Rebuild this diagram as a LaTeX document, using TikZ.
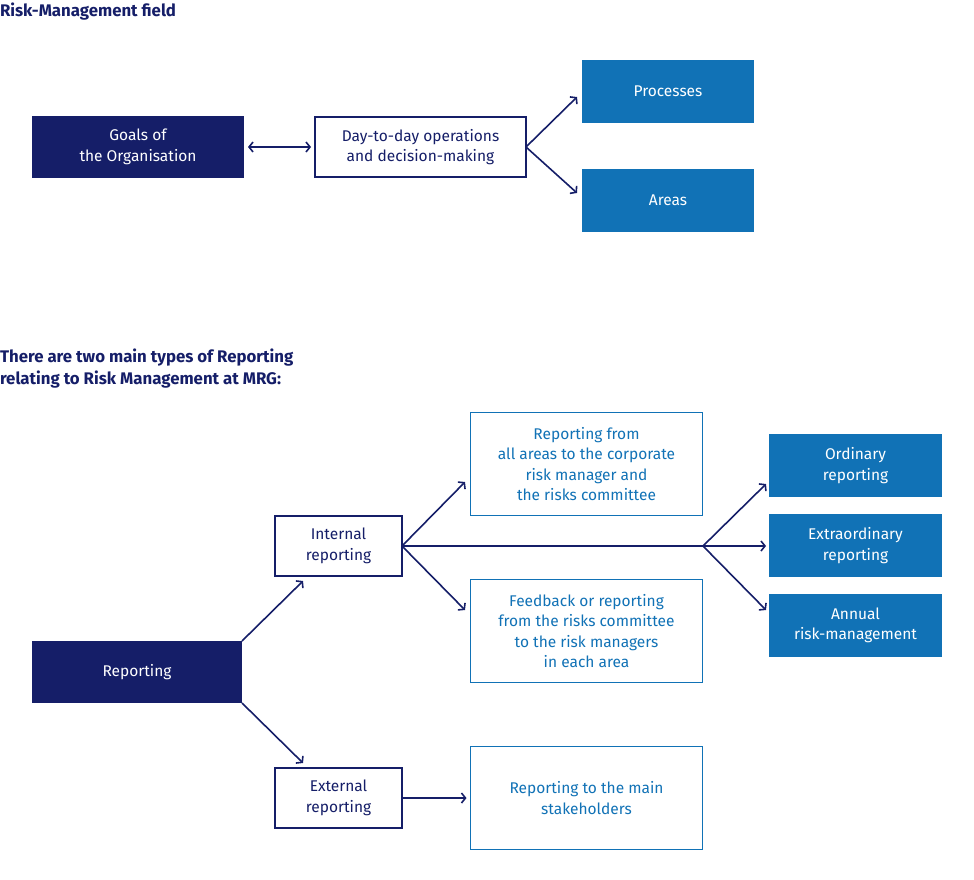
\documentclass[tikz,border=0pt]{standalone}
\usepackage{fontspec}
\setmainfont{Fira Sans}
\usetikzlibrary{arrows.meta}
\definecolor{navy}{RGB}{21,30,104}
\definecolor{mblue}{RGB}{17,114,182}
\begin{document}
\begin{tikzpicture}[x=1pt,y=-1pt,
  every node/.style={inner sep=0pt,outer sep=0pt,font=\fontsize{15.5}{20.5}\selectfont,align=center},
  navybox/.style={fill=navy,text=white},
  bluebox/.style={fill=mblue,text=white},
  whitebox/.style={draw=navy,line width=1.8pt,fill=white,text=navy},
  lightbox/.style={draw=mblue,line width=1.2pt,fill=white,text=mblue},
  conn/.style={draw=navy,line width=1.6pt},
  arr/.style={conn,-{Straight Barb[length=4pt,width=10pt,line width=1.6pt]}},
  title/.style={anchor=west,text=navy,font=\fontsize{16.8}{22}\selectfont\bfseries,align=left}]
\useasboundingbox (0,0) rectangle (974,880);
% titles
\node[title] (t1) at (0,12) {Risk-Management field};
\node[title] (t2) at (0,369) {There are two main types of Reporting\\relating to Risk Management at MRG:};
% top section
\node[navybox,minimum width=212pt,minimum height=62pt] (goals) at (138,147) {Goals of\\the Organisation};
\node[whitebox,minimum width=211pt,minimum height=60pt] (day) at (420.5,147) {Day-to-day operations\\and decision-making};
\node[bluebox,minimum width=172pt,minimum height=63pt] (proc) at (668,91.5) {Processes};
\node[bluebox,minimum width=172pt,minimum height=63pt] (areas) at (668,200.5) {Areas};
\draw[conn,{Straight Barb[length=4pt,width=10pt,line width=1.6pt]}-{Straight Barb[length=4pt,width=10pt,line width=1.6pt]}] ([xshift=4pt]goals.east) -- ([xshift=-4pt]day.west);
\coordinate (pa) at (577,97);
\coordinate (aa) at (577,193);
\draw[arr] (day.east) -- (pa);
\draw[arr] (day.east) -- (aa);
% bottom section
\node[navybox,minimum width=210pt,minimum height=62pt] (rep) at (137,672) {Reporting};
\node[whitebox,minimum width=127pt,minimum height=60pt] (int) at (338.5,546) {Internal\\reporting};
\node[whitebox,minimum width=127pt,minimum height=60pt] (ext) at (338.5,798) {External\\reporting};
\node[lightbox,minimum width=232pt,minimum height=103pt] (rfrom) at (586.5,464) {Reporting from\\all areas to the corporate\\risk manager and\\the risks committee};
\node[lightbox,minimum width=232pt,minimum height=103pt] (feed) at (586.5,631) {Feedback or reporting\\from the risks committee\\to the risk managers\\in each area};
\node[lightbox,minimum width=232pt,minimum height=103pt] (stake) at (586.5,798) {Reporting to the main\\stakeholders};
\node[bluebox,minimum width=173pt,minimum height=63pt] (ord) at (855.5,465.5) {Ordinary\\reporting};
\node[bluebox,minimum width=173pt,minimum height=63pt] (extra) at (855.5,545.5) {Extraordinary\\reporting};
\node[bluebox,minimum width=173pt,minimum height=63pt] (ann) at (855.5,625.5) {Annual\\risk-management};
% connectors
\coordinate (ia) at (303,581);
\coordinate (ea) at (303,763);
\draw[arr] (rep.north east) -- (ia);
\draw[arr] (rep.south east) -- (ea);
\draw[arr] (ext.east) -- ([xshift=-4pt]stake.west);
\coordinate (ra) at (465,482);
\coordinate (fa) at (465,610);
\draw[arr] (int.east) -- (ra);
\draw[arr] (int.east) -- (fa);
\coordinate (br) at (703,546);
\draw[conn] (int.east) -- (br);
\coordinate (oa) at (766,484);
\coordinate (xa) at (766,546);
\coordinate (na) at (766,610);
\draw[arr] (br) -- (oa);
\draw[arr] (br) -- (xa);
\draw[arr] (br) -- (na);
\end{tikzpicture}
\end{document}
